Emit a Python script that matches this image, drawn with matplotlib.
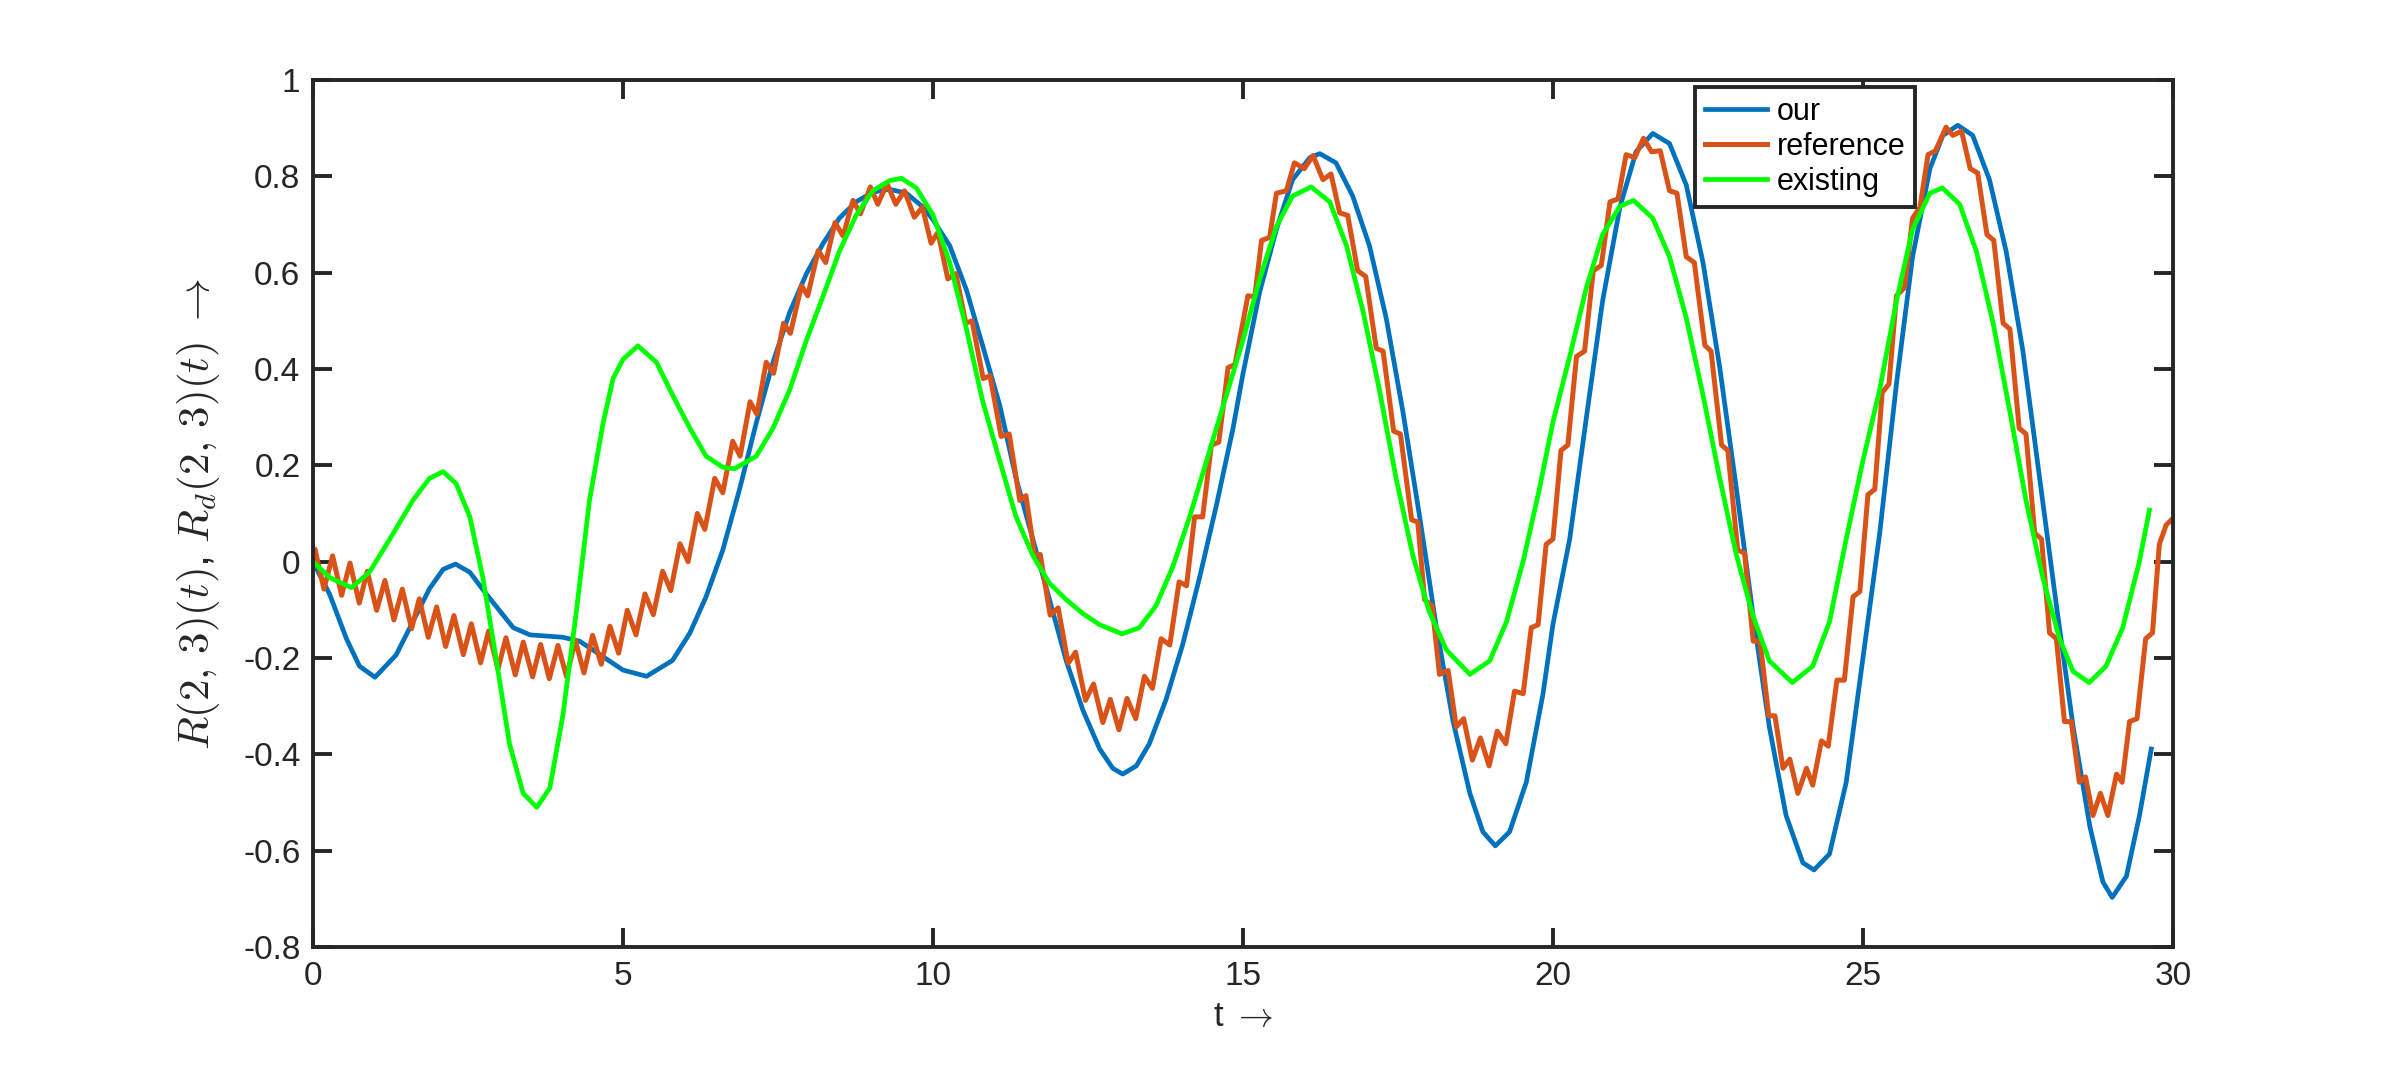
import numpy as np
import matplotlib.pyplot as plt

plt.rcParams["font.family"] = ["Liberation Sans", "DejaVu Sans"]
plt.rcParams["mathtext.fontset"] = "cm"
plt.rcParams["axes.unicode_minus"] = False

# --- our (blue) ---
t_our = [0, 0.27, 0.54, 0.75, 1.0, 1.34, 1.61, 1.88, 2.1, 2.3, 2.53, 2.8, 3.23, 3.5,
         4.03, 4.3, 4.57, 5.0, 5.38, 5.8, 6.08, 6.34, 6.61, 6.88, 7.15, 7.42, 7.69,
         7.96, 8.23, 8.49, 8.76, 9.03, 9.3, 9.57, 9.84, 10.0, 10.27, 10.54, 10.8,
         11.08, 11.34, 11.61, 11.88, 12.15, 12.42, 12.69, 12.9, 13.06, 13.28, 13.49,
         13.76, 14.03, 14.3, 14.57, 14.84, 15.0, 15.27, 15.54, 15.8, 16.08, 16.24,
         16.5, 16.77, 17.04, 17.31, 17.58, 17.85, 18.12, 18.39, 18.66, 18.87, 19.07,
         19.3, 19.57, 19.84, 20.0, 20.27, 20.54, 20.8, 21.08, 21.34, 21.61, 21.88,
         22.15, 22.42, 22.69, 22.96, 23.23, 23.49, 23.76, 24.03, 24.21, 24.46, 24.73,
         25.0, 25.27, 25.54, 25.8, 26.08, 26.29, 26.53, 26.77, 27.04, 27.31, 27.58,
         27.85, 28.12, 28.39, 28.66, 28.87, 29.02, 29.25, 29.46, 29.65]
our = [0, -0.068, -0.16, -0.217, -0.24, -0.194, -0.125, -0.056, -0.016, -0.005,
       -0.022, -0.068, -0.137, -0.152, -0.157, -0.165, -0.188, -0.225, -0.238,
       -0.205, -0.148, -0.073, 0.024, 0.15, 0.288, 0.414, 0.518, 0.598, 0.661,
       0.713, 0.747, 0.767, 0.773, 0.765, 0.736, 0.71, 0.656, 0.564, 0.449, 0.323,
       0.173, 0.047, -0.079, -0.206, -0.309, -0.389, -0.429, -0.441, -0.424,
       -0.378, -0.286, -0.171, -0.033, 0.116, 0.277, 0.39, 0.56, 0.69, 0.793,
       0.839, 0.847, 0.828, 0.759, 0.656, 0.506, 0.311, 0.093, -0.137, -0.332,
       -0.481, -0.561, -0.59, -0.561, -0.458, -0.274, -0.13, 0.047, 0.3, 0.541,
       0.736, 0.851, 0.889, 0.868, 0.782, 0.621, 0.403, 0.15, -0.114, -0.343,
       -0.527, -0.625, -0.64, -0.607, -0.458, -0.2, 0.059, 0.369, 0.633, 0.816,
       0.885, 0.906, 0.885, 0.793, 0.644, 0.437, 0.173, -0.091, -0.343, -0.55,
       -0.665, -0.697, -0.653, -0.527, -0.389]

# --- reference (orange) ---
t_ref = [0.0, 0.032, 0.177, 0.317, 0.462, 0.597, 0.747, 0.876, 1.027, 1.161, 1.306,
         1.441, 1.591, 1.715, 1.86, 1.995, 2.14, 2.274, 2.425, 2.554, 2.704, 2.833,
         2.984, 3.113, 3.263, 3.392, 3.543, 3.672, 3.812, 3.952, 4.091, 4.231,
         4.371, 4.51, 4.65, 4.79, 4.93, 5.07, 5.21, 5.355, 5.49, 5.64, 5.77, 5.92,
         6.05, 6.2, 6.32, 6.48, 6.61, 6.77, 6.89, 7.05, 7.16, 7.31, 7.43, 7.59,
         7.7, 7.88, 7.98, 8.15, 8.27, 8.42, 8.55, 8.71, 8.83, 8.99, 9.11, 9.26,
         9.4, 9.54, 9.7, 9.83, 9.97, 10.08, 10.24, 10.37, 10.53, 10.63, 10.81,
         10.92, 11.1, 11.23, 11.4, 11.5, 11.64, 11.73, 11.89, 12.02, 12.18, 12.3,
         12.46, 12.59, 12.74, 12.86, 13.0, 13.13, 13.27, 13.41, 13.54, 13.68,
         13.82, 13.97, 14.09, 14.22, 14.35, 14.49, 14.61, 14.76, 14.87, 15.08,
         15.19, 15.3, 15.43, 15.54, 15.7, 15.83, 15.99, 16.13, 16.29, 16.42,
         16.56, 16.69, 16.85, 16.98, 17.15, 17.26, 17.43, 17.54, 17.72, 17.82,
         17.93, 18.05, 18.17, 18.31, 18.44, 18.56, 18.7, 18.83, 18.97, 19.1,
         19.24, 19.38, 19.52, 19.65, 19.76, 19.89, 20.0, 20.13, 20.24, 20.38,
         20.51, 20.65, 20.78, 20.92, 21.05, 21.18, 21.32, 21.46, 21.59, 21.73,
         21.88, 22.0, 22.15, 22.28, 22.45, 22.55, 22.72, 22.82, 22.98, 23.09,
         23.23, 23.34, 23.48, 23.58, 23.71, 23.82, 23.95, 24.09, 24.19, 24.33,
         24.44, 24.58, 24.7, 24.84, 24.95, 25.08, 25.19, 25.31, 25.42, 25.54,
         25.67, 25.8, 25.92, 26.05, 26.17, 26.34, 26.45, 26.59, 26.73, 26.85,
         27.0, 27.11, 27.26, 27.37, 27.52, 27.63, 27.77, 27.88, 28.01, 28.12,
         28.25, 28.36, 28.49, 28.59, 28.71, 28.83, 28.95, 29.09, 29.18, 29.3,
         29.42, 29.56, 29.67, 29.78, 29.89, 30.0]
ref = [0.0, 0.026, -0.057, 0.012, -0.07, -0.003, -0.086, -0.02, -0.101, -0.039,
       -0.121, -0.057, -0.139, -0.077, -0.157, -0.094, -0.176, -0.112, -0.193,
       -0.129, -0.21, -0.144, -0.223, -0.158, -0.235, -0.167, -0.239, -0.172,
       -0.243, -0.174, -0.239, -0.163, -0.231, -0.153, -0.213, -0.134, -0.19,
       -0.101, -0.152, -0.067, -0.11, -0.02, -0.06, 0.037, 0.0, 0.1, 0.067, 0.173,
       0.143, 0.25, 0.219, 0.332, 0.306, 0.414, 0.391, 0.495, 0.474, 0.573, 0.552,
       0.646, 0.621, 0.704, 0.676, 0.75, 0.722, 0.778, 0.742, 0.785, 0.742, 0.77,
       0.715, 0.736, 0.661, 0.684, 0.587, 0.598, 0.495, 0.5, 0.38, 0.386, 0.26,
       0.265, 0.127, 0.137, 0.013, 0.015, -0.111, -0.096, -0.211, -0.188, -0.288,
       -0.254, -0.334, -0.286, -0.349, -0.284, -0.326, -0.238, -0.263, -0.16,
       -0.173, -0.042, -0.05, 0.093, 0.093, 0.242, 0.248, 0.403, 0.409, 0.552,
       0.55, 0.667, 0.673, 0.765, 0.77, 0.828, 0.816, 0.843, 0.793, 0.805, 0.724,
       0.719, 0.604, 0.592, 0.443, 0.437, 0.271, 0.265, 0.087, 0.082, -0.079,
       -0.091, -0.234, -0.226, -0.343, -0.326, -0.412, -0.366, -0.424, -0.352,
       -0.378, -0.269, -0.274, -0.137, -0.131, 0.036, 0.047, 0.231, 0.242, 0.426,
       0.437, 0.604, 0.615, 0.747, 0.753, 0.845, 0.839, 0.879, 0.851, 0.853, 0.77,
       0.765, 0.633, 0.621, 0.449, 0.437, 0.242, 0.231, 0.024, 0.018, -0.165,
       -0.165, -0.32, -0.32, -0.429, -0.41, -0.481, -0.429, -0.464, -0.372,
       -0.383, -0.246, -0.246, -0.073, -0.062, 0.139, 0.15, 0.351, 0.369, 0.552,
       0.569, 0.713, 0.736, 0.845, 0.853, 0.902, 0.885, 0.894, 0.816, 0.807,
       0.679, 0.667, 0.495, 0.483, 0.277, 0.265, 0.059, 0.047, -0.148, -0.16,
       -0.332, -0.332, -0.458, -0.447, -0.527, -0.481, -0.527, -0.441, -0.458,
       -0.332, -0.326, -0.16, -0.148, 0.036, 0.076, 0.09]

# --- existing (green) ---
t_exist = [0, 0.27, 0.62, 0.91, 1.24, 1.61, 1.88, 2.1, 2.31, 2.53, 2.74, 2.96, 3.17,
           3.39, 3.61, 3.82, 4.03, 4.25, 4.46, 4.68, 4.84, 5.0, 5.24, 5.54, 5.8,
           6.08, 6.34, 6.61, 6.8, 7.15, 7.42, 7.69, 7.96, 8.23, 8.49, 8.76, 9.03,
           9.3, 9.49, 9.73, 10.0, 10.27, 10.54, 10.8, 11.08, 11.34, 11.61, 11.88,
           12.15, 12.42, 12.69, 13.05, 13.33, 13.6, 13.87, 14.14, 14.41, 14.68,
           15.0, 15.27, 15.54, 15.8, 16.1, 16.4, 16.67, 16.94, 17.2, 17.47, 17.74,
           18.0, 18.28, 18.66, 18.98, 19.25, 19.52, 19.78, 20.0, 20.27, 20.54,
           20.8, 21.08, 21.3, 21.61, 21.88, 22.15, 22.42, 22.69, 22.96, 23.23,
           23.49, 23.86, 24.19, 24.46, 24.73, 25.0, 25.27, 25.54, 25.8, 26.08,
           26.28, 26.56, 26.83, 27.1, 27.37, 27.63, 27.9, 28.17, 28.39, 28.65,
           28.92, 29.19, 29.46, 29.62]
exist = [0, -0.033, -0.054, -0.022, 0.047, 0.127, 0.173, 0.187, 0.162, 0.093,
         -0.033, -0.206, -0.378, -0.481, -0.51, -0.47, -0.32, -0.102, 0.127, 0.288,
         0.38, 0.42, 0.448, 0.414, 0.346, 0.277, 0.219, 0.196, 0.193, 0.219, 0.277,
         0.357, 0.46, 0.552, 0.644, 0.719, 0.77, 0.791, 0.796, 0.776, 0.72, 0.621,
         0.483, 0.334, 0.208, 0.093, 0.013, -0.045, -0.079, -0.108, -0.131, -0.15,
         -0.137, -0.091, -0.01, 0.093, 0.208, 0.323, 0.46, 0.587, 0.696, 0.759,
         0.778, 0.747, 0.656, 0.518, 0.357, 0.173, 0.013, -0.102, -0.183, -0.234,
         -0.206, -0.125, 0.001, 0.15, 0.29, 0.426, 0.569, 0.679, 0.738, 0.75,
         0.713, 0.633, 0.506, 0.346, 0.173, 0.013, -0.114, -0.206, -0.251, -0.217,
         -0.125, 0.047, 0.21, 0.357, 0.541, 0.69, 0.765, 0.776, 0.742, 0.644,
         0.495, 0.311, 0.127, -0.033, -0.16, -0.228, -0.251, -0.217, -0.137,
         0.001, 0.107]

fig = plt.figure(figsize=(24, 10.65), dpi=100)
ax = fig.add_axes([0.1304, 0.1108, 0.775, 0.8141])

ax.plot(t_our, our, color="#0072BD", lw=3.4, label="our", solid_joinstyle="round")
ax.plot(t_ref, ref, color="#D95319", lw=3.6, label="reference", solid_joinstyle="round")
ax.plot(t_exist, exist, color="#00FF00", lw=3.4, label="existing", solid_joinstyle="round")

ax.set_xlim(0, 30)
ax.set_ylim(-0.8, 1)
ax.set_xticks(np.arange(0, 31, 5))
ax.set_yticks(np.round(np.arange(-0.8, 1.01, 0.2), 1))
ax.set_yticklabels(["-0.8", "-0.6", "-0.4", "-0.2", "0", "0.2", "0.4", "0.6", "0.8", "1"])

for s in ax.spines.values():
    s.set_linewidth(2.8)
    s.set_color("#262626")
ax.tick_params(direction="in", length=13.5, width=2.8, color="#262626",
               labelsize=24, labelcolor="#262626", top=True, right=True)
ax.tick_params(axis="x", pad=10)
ax.tick_params(axis="y", pad=9)

ax.set_xlabel("t $\\rightarrow$", fontsize=25, color="#262626", labelpad=6)
ax.yaxis.set_label_coords(-0.049, 0.47)
ax.set_ylabel("$R(2,\\,3)(t)$, $R_d(2,\\,3)(t)$ $\\rightarrow$", fontsize=31,
              color="#262626")

leg = ax.legend(loc="upper left", bbox_to_anchor=(0.743, 0.992), fontsize=22,
                frameon=True, fancybox=False, handlelength=2.05, handletextpad=0.3,
                borderpad=0.32, labelspacing=0.17, borderaxespad=0)
leg.get_frame().set_edgecolor("#262626")
leg.get_frame().set_linewidth(2.8)
leg.get_frame().set_alpha(1)

fig.savefig("out.png", dpi=100)
